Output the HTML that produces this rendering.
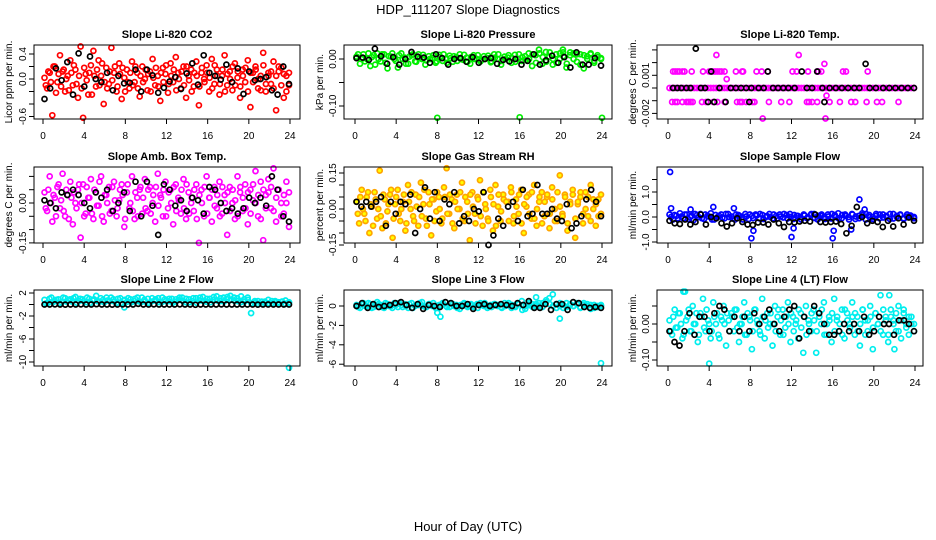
<!DOCTYPE html>
<html><head><meta charset="utf-8"><style>
html,body{margin:0;padding:0;background:#fff;}
svg{display:block;font-family:"Liberation Sans",sans-serif;}
</style></head><body>
<svg id="chart" width="936" height="540" viewBox="0 0 936 540">
<text x="468" y="14" text-anchor="middle" font-size="13">HDP_111207  Slope Diagnostics</text>
<text x="468" y="531" text-anchor="middle" font-size="13">Hour of Day (UTC)</text>
</svg>
<script>
// ---- data ----
const xTicks = [0,4,8,12,16,20,24];
const titles = ["Slope Li-820 CO2","Slope Li-820 Pressure","Slope Li-820 Temp.","Slope Amb. Box Temp.","Slope Gas Stream RH","Slope Sample Flow","Slope Line 2 Flow","Slope Line 3 Flow","Slope Line 4 (LT) Flow"];
const yTitles = ["Licor ppm per min.","kPa per min.","degrees C per min.","degrees C per min.","percent per min.","ml/min per min.","ml/min per min.","ml/min per min.","ml/min per min."];

const co2Vals = [0.02,-0.15,0.1,-0.58,0.2,-0.05,0.38,0.12,-0.2,0.05,0.3,-0.1,0.15,-0.3,0.52,-0.62,0.08,-0.25,0.22,0.45,-0.12,0.3,0.05,-0.4,0.18,-0.08,0.5,0.1,-0.2,0.25,-0.32,0.02,0.15,-0.15,0.28,-0.05,0.1,-0.28,0.2,0.0,-0.18,0.12,0.32,-0.1,0.05,-0.35,0.18,0.08,-0.22,0.25,-0.05,0.35,0.1,-0.15,0.2,-0.3,0.05,0.15,-0.12,0.28,-0.42,0.1,0.0,0.22,-0.2,0.32,-0.08,0.15,-0.25,0.05,0.38,-0.1,0.12,-0.18,0.25,0.02,-0.3,0.15,-0.05,0.3,-0.45,0.1,0.2,-0.15,0.05,0.42,-0.2,0.1,-0.08,0.28,-0.5,0.12,0.18,-0.3,0.05,-0.1];
const co2Vals2 = [-0.1,0.12,-0.05,0.2,-0.22,0.08,-0.12,0.15,0.0,-0.18,0.1,0.22,-0.08,0.05,-0.15,0.18,-0.02,0.1,-0.25,0.05,0.15,-0.1,0.25,-0.05,-0.15,0.12,-0.02,0.2,-0.12,0.08,0.18,-0.2,-0.05,0.1,-0.1,0.2,-0.15,0.05,-0.05,0.15,0.08,-0.2,0.02,0.18,-0.12,0.1,-0.05,0.22,-0.08,0.05,0.15,-0.18,0.0,0.12,-0.1,0.2,-0.02,-0.2,0.1,0.05,-0.12,0.18,-0.05,0.1,0.02,-0.15,0.22,0.05,-0.08,0.15,-0.2,0.08,0.0,0.2,-0.1,0.12,-0.12,0.05,0.18,-0.2,0.1,-0.05,0.15,0.0,-0.18,0.22,-0.08,0.05,0.12,-0.15,0.05,0.2,-0.1,0.08,-0.2,0.1];
const co2Black = [-0.32,-0.15,0.17,-0.02,0.27,-0.25,0.41,-0.12,0.36,0.0,-0.05,0.1,-0.18,0.05,-0.07,-0.06,0.15,-0.2,0.15,0.06,-0.22,-0.14,-0.04,0.03,-0.16,0.09,0.25,-0.09,0.38,0.1,0.05,-0.01,0.23,-0.05,0.17,-0.24,0.12,-0.02,0.0,0.03,-0.18,-0.25,0.2,-0.08];

const presVals = [0.005,-0.01,0.01,0.0,-0.015,0.008,0.012,-0.005,0.01,-0.02,0.005,0.0,-0.018,0.012,0.003,-0.01,0.008,-0.005,0.01,0.0,-0.012,0.006,0.002,-0.008,0.009,-0.004,0.0,0.007,-0.006,0.004,0.01,-0.002,0.003,-0.01,0.008,0.0,-0.005,0.006,0.002,-0.007,0.01,0.0,-0.012,0.005,0.003,-0.008,0.009,0.0,-0.004,0.006,0.012,-0.015,0.008,0.02,-0.01,0.015,0.005,-0.012,0.01,0.0,0.014,-0.018,0.008,0.012,-0.006,0.01,-0.02,0.006,0.01,-0.008,0.004,0.0];
const presVals2 = [0.01,0.0,-0.005,0.012,0.004,-0.012,0.0,0.01,-0.008,0.006,0.012,-0.004,0.008,0.0,-0.01,0.005,0.01,-0.006,0.003,0.009,-0.003,0.0,0.008,-0.005,0.004,0.01,-0.008,0.002,0.006,-0.004,0.0,0.009,-0.006,0.004,0.0,0.008,-0.003,0.0,0.007,-0.005,0.003,0.01,-0.004,0.0,0.008,0.002,-0.006,0.01,0.004,-0.002,0.0,0.01,-0.008,0.012,0.004,-0.006,0.014,0.0,-0.008,0.012,0.006,-0.01,0.014,0.0,0.01,-0.012,0.008,0.0,0.012,-0.004,0.008,0.002];
const presOutHours = [8,16,24,20.2];
const presOutVals = [-0.125,-0.124,-0.125,0.02];
const presBlack = [0.002,0.003,-0.002,0.022,0.006,-0.01,0.004,-0.012,0.0,0.015,0.005,0.003,-0.008,0.01,0.002,-0.012,0.0,0.002,-0.006,0.004,-0.008,0.0,0.002,-0.01,-0.002,-0.005,0.0,-0.012,-0.004,0.01,-0.012,-0.003,0.007,-0.008,0.004,-0.018,0.014,-0.012,-0.012,0.002,-0.014];

const tempZeroVals = [0,0,0,0,0,0,0,0,0,0,0,0,0,0,0,0,0,0,0,0,0,0,0,0,0,0,0,0,0,0,0,0,0,0,0,0,0,0,0,0,0,0,0,0,0,0,0,0,0,0,0,0,0,0,0,0,0,0,0,0,0,0,0,0,0,0,0,0,0,0,0,0,0,0,0,0,0,0,0,0,0,0,0,0,0,0,0,0,0,0];
const tempUpHours = [0.5,0.7,0.9,1.1,1.4,1.6,2.3,3.4,4.0,4.2,4.4,4.6,4.8,5.0,5.2,5.5,6.6,7.2,7.3,8.6,9.1,9.7,12.1,12.5,13.6,14.5,14.6,14.9,17.0,17.3,19.4];
const tempUpVals = [0.0013,0.0013,0.0013,0.0013,0.0013,0.0013,0.0013,0.0013,0.0013,0.0013,0.0013,0.0013,0.0013,0.0013,0.0013,0.0013,0.0013,0.0013,0.0013,0.0013,0.0013,0.0013,0.0013,0.0013,0.0013,0.0013,0.0013,0.0013,0.0013,0.0013,0.0013];
const tempDownHours = [0.4,0.7,0.9,1.4,1.8,2.0,2.2,2.4,3.3,3.7,4.4,4.8,5.5,6.7,7.0,7.2,7.6,8.2,8.4,9.8,11.0,11.8,13.5,13.7,14.0,14.5,15.7,16.7,17.8,18.2,19.3,20.3,20.8,22.4];
const tempDownVals = [-0.0011,-0.0011,-0.0011,-0.0011,-0.0011,-0.0011,-0.0011,-0.0011,-0.0011,-0.0011,-0.0011,-0.0011,-0.0011,-0.0011,-0.0011,-0.0011,-0.0011,-0.0011,-0.0011,-0.0011,-0.0011,-0.0011,-0.0011,-0.0011,-0.0011,-0.0011,-0.0011,-0.0011,-0.0011,-0.0011,-0.0011,-0.0011,-0.0011,-0.0011];
const tempOutHours = [4.7,12.7,15.2,5.7,15.4,9.2,15.3];
const tempOutVals = [0.0026,0.0026,0.0019,0.0007,-0.0006,-0.0024,-0.0024];
const tempBlackHours = [0.5,0.9,1.3,1.8,2.2,2.7,3.2,3.6,3.9,4.2,4.5,5.0,5.6,6.1,6.6,7.1,7.6,7.9,8.1,8.8,9.3,9.7,10.2,10.7,11.2,11.7,12.3,13.0,13.5,14.0,14.5,15.0,15.2,15.7,16.3,16.9,17.5,18.1,18.6,19.2,19.6,20.2,20.9,21.5,22.1,22.7,23.3,23.9];
const tempBlackVals = [0,0,0,0,0,0.0031,0,0,-0.0011,0.0013,-0.0011,0,-0.0011,0,0,0,0,-0.0011,0,0,0,0.0013,0,0,0,0,0,0.0013,0,0,0.0013,0,-0.0011,0,0,0,0,0,0,0.0019,0,0,0,0,0,0,0,0];

const ambVals = [0.04,-0.03,0.1,-0.07,0.02,0.06,-0.02,0.11,-0.05,0.03,0.08,-0.08,0.0,0.05,-0.13,0.07,-0.04,0.02,0.09,-0.06,0.04,-0.01,0.1,-0.07,0.03,0.06,-0.03,0.08,-0.05,0.01,0.07,-0.09,0.04,-0.02,0.1,-0.06,0.02,0.05,-0.04,0.09,-0.03,0.06,0.0,-0.07,0.11,0.03,-0.05,0.08,-0.02,0.05,-0.08,0.07,0.02,-0.04,0.09,-0.06,0.04,0.0,-0.03,0.07,-0.15,0.05,-0.05,0.1,0.02,-0.07,0.06,-0.02,0.08,-0.04,0.03,-0.12,0.06,0.0,-0.06,0.1,0.04,-0.03,0.07,-0.08,0.05,0.01,0.12,-0.05,0.08,-0.14,0.03,0.09,-0.02,0.13,-0.07,0.05,0.0,-0.04,0.08,-0.09];
const ambVals2 = [-0.02,0.05,0.0,0.03,-0.05,0.07,0.01,-0.03,0.05,-0.06,0.02,0.04,-0.02,0.07,0.0,-0.05,0.06,0.02,-0.04,0.05,-0.01,0.08,-0.05,0.03,0.0,-0.04,0.06,0.01,-0.02,0.05,0.03,-0.06,0.07,0.0,-0.03,0.04,-0.05,0.06,0.02,-0.02,0.05,-0.04,0.03,0.06,-0.01,0.02,0.05,-0.05,0.04,0.0,0.06,-0.03,0.01,0.05,-0.02,0.07,-0.04,0.02,0.05,-0.06,0.03,0.0,0.06,-0.04,0.02,0.05,-0.01,0.03,-0.05,0.06,0.0,0.04,-0.03,0.05,0.01,-0.05,0.06,0.02,-0.02,0.04,-0.04,0.07,0.0,0.03,-0.06,0.05,-0.02,0.04,0.06,-0.03,0.02,0.05,-0.05,0.03,0.0,0.04];
const ambBlack = [0.01,0.0,-0.02,0.04,0.03,0.05,0.03,0.0,-0.02,0.04,0.02,0.05,-0.03,0.0,0.04,-0.03,0.08,-0.05,0.08,-0.01,-0.12,0.07,0.05,-0.01,0.01,-0.03,0.02,0.01,-0.04,0.06,0.05,0.0,-0.03,-0.02,-0.04,-0.02,0.02,0.0,0.02,-0.01,0.10,0.05,-0.05,-0.07];

const rhVals = [0.03,-0.06,0.08,-0.02,0.05,-0.1,0.01,0.07,-0.04,0.16,-0.08,0.04,-0.01,0.06,-0.12,0.02,0.08,-0.05,0.03,-0.09,0.1,0.0,-0.03,0.06,-0.07,0.11,0.02,-0.04,0.07,-0.11,0.04,-0.01,0.05,-0.06,0.09,0.17,-0.02,0.04,-0.08,0.06,0.0,0.11,-0.05,0.03,-0.13,0.07,-0.02,0.05,0.12,-0.07,0.02,-0.04,0.08,-0.09,0.1,0.01,-0.05,0.06,-0.16,0.03,0.09,-0.06,0.04,-0.02,0.08,-0.1,0.01,0.06,-0.04,0.1,-0.07,0.03,0.07,-0.03,0.05,-0.08,0.09,0.0,-0.05,0.14,-0.02,0.06,-0.09,0.03,0.08,-0.12,0.02,0.05,-0.06,0.07,-0.03,0.1,0.0,-0.07,0.04,-0.02];
const rhVals2 = [-0.02,0.05,0.0,-0.05,0.07,0.02,-0.07,0.04,0.0,-0.03,0.06,-0.06,0.02,0.08,-0.04,0.05,-0.02,0.0,0.06,-0.06,0.03,0.07,-0.05,0.01,0.05,-0.03,0.08,-0.07,0.02,0.04,-0.05,0.07,0.0,-0.04,0.05,-0.02,0.06,-0.06,0.03,0.0,0.07,-0.04,0.05,-0.02,0.06,0.01,-0.06,0.04,-0.03,0.07,0.0,-0.05,0.05,0.02,-0.07,0.06,-0.01,0.04,0.03,-0.05,0.07,-0.03,0.01,0.06,-0.06,0.02,0.05,-0.02,0.07,-0.04,0.0,0.05,-0.06,0.03,0.06,-0.02,0.04,-0.05,0.07,0.01,-0.03,0.05,-0.06,0.02,0.06,-0.04,0.03,0.07,-0.02,0.0,0.05,-0.05,0.04,0.02,-0.03,0.06];
const rhBlack = [0.03,0.01,0.03,0.01,0.03,0.05,-0.07,0.03,-0.02,0.03,0.02,0.06,-0.1,0.0,0.09,-0.04,0.07,-0.05,0.04,0.02,0.07,-0.06,-0.03,-0.05,0.0,-0.01,0.07,-0.15,-0.11,-0.04,-0.07,0.01,0.03,-0.05,0.08,-0.03,-0.02,0.1,-0.02,-0.02,0.0,-0.04,-0.05,0.02,-0.08,-0.06,-0.03,0.04,0.08,0.03,-0.03];

const sampleVals = [0.1,-0.1,0.05,0.15,-0.05,0.1,0.0,-0.12,0.08,0.12,-0.08,0.05,0.15,-0.1,0.0,0.1,-0.05,0.12,0.02,-0.1,0.08,0.0,0.12,-0.08,0.05,0.1,-0.05,0.08,0.0,0.12,-0.06,0.05,0.1,-0.02,0.08,0.12,-0.08,0.05,0.0,0.1,-0.05,0.08,0.12,-0.1,0.05,0.0,0.1,-0.06,0.08,0.15,-0.05,0.1,0.0,0.12,-0.08,0.05,0.15,-0.1,0.08,0.0,0.12,-0.05,0.1,0.05,-0.08,0.12,0.0,0.08,-0.05,0.1,0.02,0.0];
const sampleVals2 = [0.0,0.08,-0.05,0.02,0.1,-0.08,0.05,0.12,0.0,-0.05,0.1,0.02,-0.1,0.08,0.05,-0.02,0.12,0.0,-0.06,0.1,0.05,-0.1,0.02,0.1,-0.04,0.06,0.12,-0.08,0.04,0.0,0.1,-0.05,0.02,0.12,-0.06,0.0,0.08,0.05,-0.1,0.06,0.0,0.12,-0.04,0.05,0.1,-0.08,0.02,0.12,0.0,-0.06,0.08,0.05,-0.1,0.1,0.02,-0.05,0.08,0.12,0.0,-0.08,0.05,0.1,-0.02,0.0,0.12,-0.06,0.05,0.1,-0.08,0.02,0.06,-0.05];
const sampleOutHours = [0.2,0.3,8.1,8.3,12.0,12.2,16.0,16.1,17.8,18.6,4.4,6.4,2.2,19.1];
const sampleOutVals = [1.8,0.35,-0.85,-0.55,-0.8,-0.45,-0.85,-0.55,-0.5,0.7,0.4,0.35,0.3,0.3];
const sampleBlack = [-0.15,-0.25,-0.28,-0.1,-0.3,-0.2,0.1,-0.3,0.0,-0.05,-0.25,-0.38,-0.25,-0.05,-0.2,-0.3,-0.32,-0.22,-0.22,-0.3,-0.1,-0.25,-0.4,-0.2,-0.22,-0.18,-0.15,-0.18,0.1,-0.2,-0.22,-0.2,-0.18,-0.28,-0.65,-0.35,0.4,0.0,-0.25,-0.15,-0.2,-0.4,-0.15,-0.38,-0.05,-0.3,-0.02,-0.15];

const line2Vals = [0.8,0.3,1.2,0.6,0.9,0.4,1.1,0.7,0.5,1.3,0.6,0.9,0.4,1.0,0.7,1.5,0.5,0.8,1.2,0.6,0.9,0.3,1.1,0.7,0.5,0.9,0.6,1.2,0.4,0.8,1.0,0.5,0.7,1.1,0.4,0.9,0.6,1.0,0.5,0.8,1.2,0.4,0.9,0.6,1.1,0.7,1.3,0.5,1.0,0.8,1.4,0.6,1.2,0.9,1.5,0.7,1.1,0.4,0.9,1.2,-1.5,0.3,0.6,0.1,0.5,0.8,0.2,0.6,0.4,0.5,0.7,0.3];
const line2Vals2 = [0.2,1.0,0.4,0.8,0.2,1.2,0.5,0.9,1.1,0.3,1.0,0.6,1.2,0.3,0.9,0.6,1.1,0.4,0.7,1.2,0.5,1.0,0.3,0.8,1.1,0.4,1.0,0.6,1.2,0.5,0.3,1.1,0.9,0.4,1.2,0.6,1.0,0.3,0.9,1.2,0.6,1.0,0.4,1.1,0.3,1.2,0.6,1.0,0.4,1.3,0.7,1.1,0.5,1.3,0.8,1.2,0.6,1.4,0.5,0.8,0.2,0.6,0.1,0.5,0.3,0.2,0.6,0.4,0.2,0.5,0.1,0.4];
const line2OutHours = [23.9,7.9];
const line2OutVals = [-11,-0.5];
const line2Black = [0.0,0.0,0.02,0.0,-0.02,0.0,0.0,0.02,0.0,0.0,0.05,0.0,0.0,-0.02,0.0,0.02,0.0,0.0,0.1,0.0,0.0,0.02,0.0,0.0,0.0,0.0,0.02,0.0,0.0,-0.05,0.0,0.0,0.0,0.0,0.02,0.0,0.0,0.0,0.0,0.0,0.0,-0.02,0.0,0.0,0.0,0.0,0.0,0.0];

const line3Vals = [0.1,-0.2,0.3,0.0,0.2,-0.1,0.4,0.1,-0.2,0.2,0.0,0.3,-0.1,0.1,0.2,-0.2,0.3,0.0,0.1,0.4,-0.1,0.2,0.0,-0.2,0.1,0.3,0.0,-0.1,0.2,0.1,-0.3,0.2,0.0,0.1,-0.1,0.2,0.3,0.0,-0.2,0.1,0.2,0.0,-0.1,0.3,0.1,-0.2,0.0,0.2,0.5,-0.3,0.1,0.2,0.0,0.3,-0.1,0.4,0.8,1.2,0.2,0.0,-0.2,0.3,0.1,0.0,0.2,-0.1,0.3,0.0,0.1,-0.2,0.0,0.1];
const line3Vals2 = [-0.1,0.2,0.0,0.3,-0.2,0.1,0.2,-0.1,0.3,0.0,-0.2,0.1,0.3,-0.1,0.0,0.2,-0.2,0.1,0.3,0.0,-0.1,0.2,0.3,-0.2,0.0,0.2,-0.1,0.3,0.0,-0.2,0.1,0.3,-0.1,0.2,0.0,-0.2,0.1,0.3,0.0,-0.1,0.2,0.1,-0.2,0.0,0.3,0.1,-0.1,0.2,-0.4,0.0,0.3,-0.1,0.2,0.0,0.3,0.6,0.2,0.0,-0.2,0.3,0.1,-0.1,0.2,0.0,0.3,-0.2,0.1,0.2,-0.3,0.1,-0.1,0.0];
const line3OutHours = [8.0,8.3,19.9,17.6,23.9];
const line3OutVals = [-0.7,-1.1,-1.3,0.9,-5.9];
const line3Black = [0.0,0.3,-0.2,0.2,-0.1,0.0,0.1,0.3,0.4,0.1,-0.2,0.2,-0.3,0.1,0.0,-0.1,0.4,0.3,0.0,0.0,0.2,-0.3,0.1,0.2,0.0,0.1,0.2,0.1,0.0,0.3,0.1,0.5,-0.2,-0.2,0.2,-0.4,0.2,0.2,-0.4,0.4,0.3,-0.1,-0.2,-0.1,-0.2];

const line4Vals = [0.01,-0.03,0.04,-0.01,0.03,-0.04,0.09,0.02,-0.02,0.05,0.0,-0.05,0.03,0.07,-0.02,0.01,-0.04,0.06,0.0,-0.03,0.02,0.05,-0.06,0.01,0.03,-0.02,0.04,-0.05,0.0,0.06,-0.03,0.02,-0.07,0.04,0.01,-0.02,0.07,-0.04,0.03,0.0,-0.06,0.05,0.02,-0.03,0.04,-0.01,0.06,-0.05,0.02,0.0,-0.04,0.03,-0.08,0.05,0.01,-0.02,0.04,-0.08,0.03,0.0,0.06,-0.03,0.02,-0.05,0.07,0.01,-0.02,0.04,-0.04,0.03,0.0,0.06,-0.03,0.02,-0.06,0.04,0.01,-0.02,0.05,-0.07,0.03,0.0,0.08,-0.03,0.02,-0.05,0.04,0.01,-0.02,0.05,-0.04,0.03,0.0,-0.03,0.02,0.0];
const line4Vals2 = [-0.02,0.02,-0.01,0.03,0.0,-0.03,0.01,0.04,-0.02,0.0,0.03,-0.03,0.02,-0.01,0.04,0.0,-0.02,0.02,0.03,-0.04,0.01,0.0,0.03,-0.02,0.02,0.04,-0.01,0.0,0.02,-0.03,0.03,0.01,-0.02,0.04,0.0,-0.03,0.02,0.01,-0.01,0.03,0.0,-0.02,0.04,0.01,-0.03,0.02,0.0,0.03,-0.02,0.01,0.04,-0.01,0.02,-0.03,0.0,0.03,0.01,-0.02,0.02,0.04,-0.03,0.0,0.01,0.03,-0.02,0.02,0.0,-0.03,0.04,0.01,-0.01,0.02,0.03,-0.02,0.0,0.04,-0.03,0.01,0.02,-0.01,0.03,0.0,-0.02,0.04,0.01,-0.03,0.02,0.0,0.03,-0.02,0.01,0.04,-0.01,0.02,0.0,-0.02];
const line4OutHours = [1.5,4.0,21.5,22.0];
const line4OutVals = [0.09,-0.11,0.08,-0.07];
const line4Black = [-0.02,-0.05,-0.06,-0.02,0.03,-0.03,0.02,0.02,-0.02,0.03,0.05,0.04,-0.02,0.02,-0.02,0.02,-0.02,0.03,0.0,0.02,0.04,0.0,-0.02,0.02,0.04,0.05,-0.04,0.02,-0.02,0.05,0.03,0.0,-0.03,-0.03,-0.02,0.0,-0.02,0.0,-0.02,0.02,-0.03,-0.02,0.02,0.0,0.0,-0.03,0.01,0.01,0.0,-0.02];

// ---- layout (positions only) ----
const cols = [{l:34,r:300,x0:43,x24:290,yl:23,yt:9},{l:344,r:612,x0:355,x24:602,yl:333,yt:320},{l:657,r:923,x0:668,x24:915,yl:646,yt:633}];
const rows = [{t:45,b:119},{t:167,b:243},{t:290,b:366}];
const yScale = [{v0:0,p0:79,k:62.5},{v0:0,p0:59,k:470},{v0:0,p0:88,k:12700},{v0:0,p0:203,k:266},{v0:0,p0:209,k:240},{v0:0,p0:217,k:25},{v0:0,p0:304.5,k:5.75},{v0:0,p0:306,k:9.7},{v0:0,p0:324,k:360}];
const yTickVals = [[-0.6,-0.4,-0.2,0,0.2,0.4],[-0.1,-0.05,0],[-0.002,-0.001,0,0.001,0.002,0.003],[-0.15,-0.1,-0.05,0,0.05,0.1],[-0.15,-0.1,-0.05,0,0.05,0.1,0.15],[-1,-0.5,0,0.5,1,1.5],[-10,-8,-6,-4,-2,0,2],[-6,-4,-2,0],[-0.1,-0.05,0,0.05]];
const yTickLabels = [["-0.6","","","0.0","","0.4"],["-0.10","","0.00"],["-0.002","","","0.001","",""],["-0.15","","","0.00","",""],["-0.15","","","0.00","","","0.15"],["-1.0","","0.0","","1.0",""],["-10","","-6","","-2","","2"],["-6","-4","-2","0"],["-0.10","","0.00",""]];

const series = [
  [{v:co2Vals,c:"#ff0000"},{v:co2Vals2,c:"#ff0000",o:0.12},{v:co2Black,c:"#000"}],
  [{v:presVals,c:"#00ee00"},{v:presVals2,c:"#00ee00",o:0.15},{h:presOutHours,v:presOutVals,c:"#00ee00"},{v:presBlack,c:"#000"}],
  [{v:tempZeroVals,c:"#ff00ff"},{h:tempUpHours,v:tempUpVals,c:"#ff00ff"},{h:tempDownHours,v:tempDownVals,c:"#ff00ff"},{h:tempOutHours,v:tempOutVals,c:"#ff00ff"},{h:tempBlackHours,v:tempBlackVals,c:"#000"}],
  [{v:ambVals,c:"#ff00ff"},{v:ambVals2,c:"#ff00ff",o:0.12},{v:ambBlack,c:"#000"}],
  [{v:rhVals,c:"#ffa500",f:"#ffff00"},{v:rhVals2,c:"#ffa500",f:"#ffff00",o:0.12},{v:rhBlack,c:"#000"}],
  [{v:sampleVals,c:"#0000ff"},{v:sampleVals2,c:"#0000ff",o:0.15},{h:sampleOutHours,v:sampleOutVals,c:"#0000ff"},{v:sampleBlack,c:"#000"}],
  [{v:line2Vals,c:"#00eeee"},{v:line2Vals2,c:"#00eeee",o:0.15},{h:line2OutHours,v:line2OutVals,c:"#00eeee"},{v:line2Black,c:"#000"}],
  [{v:line3Vals,c:"#00eeee"},{v:line3Vals2,c:"#00eeee",o:0.15},{h:line3OutHours,v:line3OutVals,c:"#00eeee"},{v:line3Black,c:"#000"}],
  [{v:line4Vals,c:"#00eeee"},{v:line4Vals2,c:"#00eeee",o:0.12},{h:line4OutHours,v:line4OutVals,c:"#00eeee"},{v:line4Black,c:"#000"}]
];

const NS = "http://www.w3.org/2000/svg";
const svg = document.getElementById("chart");
function mk(tag, attrs, parent){ const e=document.createElementNS(NS,tag); for(const k in attrs) e.setAttribute(k,attrs[k]); (parent||svg).appendChild(e); return e; }

for(let p=0;p<9;p++){
  const col=cols[p%3], row=rows[Math.floor(p/3)], ys=yScale[p];
  const xAt = h => col.x0 + (col.x24-col.x0)*h/24;
  const yAt = v => ys.p0 - (v-ys.v0)*ys.k;
  const g = mk("g",{});
  
  
  const t = mk("text",{x:(col.l+col.r)/2,y:row.t-7,"text-anchor":"middle","font-size":"11","font-weight":"bold"},g);
  t.textContent = titles[p];
  
  
  const yt = mk("text",{x:col.yt,y:(row.t+row.b)/2,"text-anchor":"middle","font-size":"10",transform:`rotate(-90 ${col.yt} ${(row.t+row.b)/2})`,dy:"3"},g);
  yt.textContent = yTitles[p];
  
  
  const pg = mk("g",{fill:"none","stroke-width":"1.7"},g);
  
  
  series[p].forEach(s=>{
    const n=s.v.length, off=s.o||0;
    s.v.forEach((v,i)=>{
      const h = s.h ? s.h[i] : 0.15 + off + (23.75-off)*i/(n-1);
      const y = yAt(v);
      if(y<row.t-3||y>row.b+3) return;
      const c = mk("circle",{cx:xAt(h).toFixed(1),cy:y.toFixed(1),r:"2.5",stroke:s.c,fill:s.f||"none"},pg);
      
      
    });
  });
  const b = mk("rect",{x:col.l,y:row.t,width:col.r-col.l,height:row.b-row.t,fill:"none",stroke:"#000","stroke-width":"1"},g);
  
  
  xTicks.forEach(h=>{
    const x=xAt(h);
    mk("line",{x1:x,x2:x,y1:row.b,y2:row.b+5,stroke:"#000"},g);
    const lt = mk("text",{x:x,y:row.b+20,"text-anchor":"middle","font-size":"10"},g);
    lt.textContent = h;
    
    
  });
  yTickVals[p].forEach((v,i)=>{
    const y=yAt(v);
    mk("line",{x1:col.l-5,x2:col.l,y1:y,y2:y,stroke:"#000"},g);
    const s=yTickLabels[p][i];
    if(s){
      const lt = mk("text",{x:col.yl,y:y,"text-anchor":"middle","font-size":"10",dy:"3",transform:`rotate(-90 ${col.yl} ${y})`},g);
      lt.textContent = s;
      
      
    }
  });
}
</script>
</body></html>
